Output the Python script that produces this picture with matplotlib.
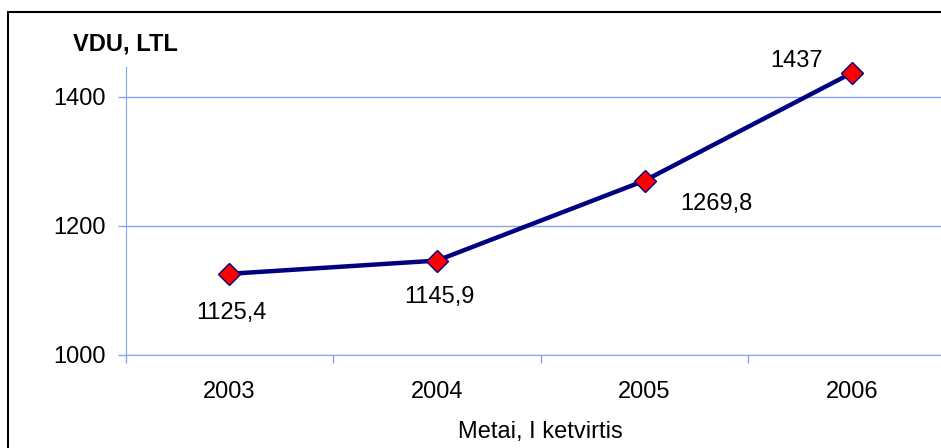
import matplotlib
matplotlib.use('Agg')
import matplotlib.pyplot as plt
from matplotlib.patches import Rectangle

years = ['2003', '2004', '2005', '2006']
wages = [1125.4, 1145.9, 1269.8, 1437]
wage_labels = ['1125,4', '1145,9', '1269,8', '1437']
# label offsets in pixels from each point (x, y)
label_offsets = [(2, -45), (2, -42), (72, -29), (-55, 6)]

grid_color = '#86A4F4'
line_color = '#000080'

plt.rcParams['font.family'] = ['Liberation Sans', 'DejaVu Sans']
plt.rcParams['font.size'] = 17

fig = plt.figure(figsize=(9.41, 4.48), dpi=100)
ax = fig.add_axes([125.7 / 941, 93.3 / 448, 830.1 / 941, 288 / 448])

x = list(range(len(years)))
ax.plot(x, wages, color=line_color, linewidth=3.2, marker='D', markersize=11,
        markerfacecolor='red', markeredgecolor=line_color, markeredgewidth=1,
        zorder=3, clip_on=False)

for xi, v, lab, off in zip(x, wages, wage_labels, label_offsets):
    ax.annotate(lab, (xi, v), xytext=off, textcoords='offset pixels',
                ha='center', va='baseline')

ax.set_xlim(-0.5, 3.5)
ax.set_ylim(1000, 1446.5)
ax.set_yticks([1000, 1200, 1400])
ax.set_xticks(x)
ax.set_xticklabels(years)
ax.set_xticks([i - 0.5 for i in range(len(years) + 1)], minor=True)
ax.tick_params(axis='x', which='major', length=0, pad=19)
ax.tick_params(axis='x', which='minor', length=5.5, width=1, color=grid_color)
ax.tick_params(axis='y', length=5.5, width=1, color=grid_color, pad=9)

ax.grid(axis='y', color=grid_color, linewidth=1)
ax.set_axisbelow(True)
for side in ['top', 'right']:
    ax.spines[side].set_visible(False)
ax.spines['left'].set_color(grid_color)
ax.spines['bottom'].set_color(grid_color)

fig.text(72.7 / 941, 1 - 50 / 448, 'VDU, LTL', fontweight='bold', va='baseline')
fig.text(540.7 / 941, 1 - 438 / 448, 'Metai, I ketvirtis', ha='center', va='baseline')

fig.patches.append(Rectangle((7.5 / 941, -0.1), 1.2, 1.1 - 12 / 448,
                             transform=fig.transFigure, fill=False,
                             edgecolor='black', linewidth=1.5))

fig.savefig('out.png', dpi=100)
